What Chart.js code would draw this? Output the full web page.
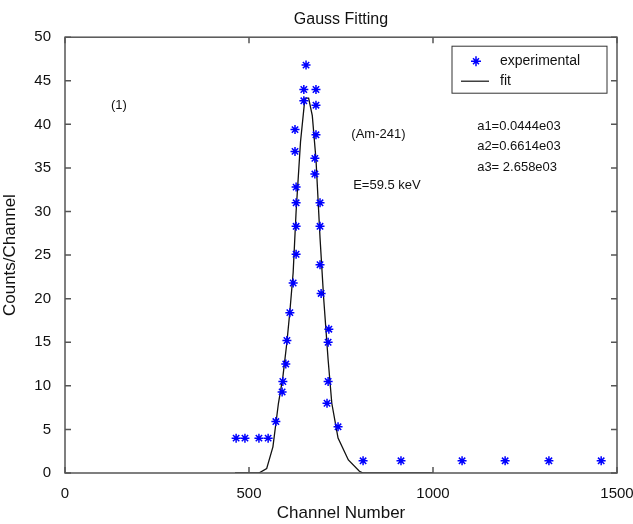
<!DOCTYPE html>
<html>
<head>
<meta charset="utf-8">
<script src="https://cdn.jsdelivr.net/npm/chart.js@4"></script>
<style>
  html, body { margin: 0; padding: 0; background: #fff; overflow: hidden; }
  #wrap { width: 633px; height: 524px; position: relative; }
  canvas { display: block; }
</style>
</head>
<body>
<div id="wrap"><canvas id="gauss"></canvas></div>
<script>
// experimental points (channel, counts)
const expChannels = [465, 489, 527, 552, 573, 590, 592, 600, 603, 611, 620, 628, 628, 628, 628, 625, 625, 649, 649, 655,
                     682, 682, 682, 679, 679, 693, 693, 693, 696, 717, 715, 715, 712, 742,
                     810, 913, 1079, 1196, 1315, 1457];
const expCounts   = [4.0, 4.0, 4.0, 4.0, 5.9, 9.3, 10.5, 12.5, 15.2, 18.4, 21.8, 25.1, 28.3, 31.0, 32.8, 36.9, 39.4, 42.7, 44.0, 46.8,
                     44.0, 42.2, 38.8, 36.1, 34.3, 31.0, 28.3, 23.9, 20.6, 16.5, 15.0, 10.5, 8.0, 5.3,
                     1.4, 1.4, 1.4, 1.4, 1.4, 1.4];

// fitted curve
const fitChannels = [462, 490, 527, 548, 565, 580, 592, 603, 611, 620, 628, 640, 652, 662, 672, 682, 693, 703, 715, 725, 742, 770, 800, 810, 913, 1000];
const fitCounts   = [0, 0, 0, 0.5, 3, 8, 11, 15, 18.5, 23, 30, 38, 43, 43, 41, 36, 27, 20, 13, 8, 4, 1.5, 0.2, 0, 0, 0];

const xTicks = [0, 500, 1000, 1500];
const yTicks = [0, 5, 10, 15, 20, 25, 30, 35, 40, 45, 50];

// text notes placed in data coordinates
const notes = [
    { text: '(1)', x: 125, y: 42.2 },
    { text: '(Am-241)', x: 778, y: 38.8 },
    { text: 'E=59.5 keV', x: 783, y: 33.0 },
    { text: 'a1=0.0444e03', x: 1120, y: 39.8 },
    { text: 'a2=0.6614e03', x: 1120, y: 37.5 },
    { text: 'a3= 2.658e03', x: 1120, y: 35.1 }
];

const FONT = '"Liberation Sans", Arial, sans-serif';
const AXIS = '#555';

const matlabBox = {
    id: 'matlabBox',
    afterDraw(chart) {
        const { ctx, chartArea: a, scales } = chart;
        ctx.save();
        // frame
        ctx.strokeStyle = AXIS;
        ctx.lineWidth = 1.5;
        ctx.strokeRect(a.left, a.top, a.right - a.left, a.bottom - a.top);
        // inward ticks on all four sides
        ctx.beginPath();
        yTicks.forEach(v => {
            const py = scales.y.getPixelForValue(v);
            ctx.moveTo(a.left, py); ctx.lineTo(a.left + 6, py);
            ctx.moveTo(a.right, py); ctx.lineTo(a.right - 6, py);
        });
        xTicks.forEach(v => {
            const px = scales.x.getPixelForValue(v);
            ctx.moveTo(px, a.bottom); ctx.lineTo(px, a.bottom - 6);
            ctx.moveTo(px, a.top); ctx.lineTo(px, a.top + 6);
        });
        ctx.stroke();

        // notes
        ctx.fillStyle = '#111';
        ctx.font = '13px ' + FONT;
        ctx.textBaseline = 'middle';
        ctx.textAlign = 'left';
        notes.forEach(n => {
            ctx.fillText(n.text, scales.x.getPixelForValue(n.x), scales.y.getPixelForValue(n.y));
        });

        // legend box
        const lx = a.right - 165, ly = a.top + 9, lw = 155, lh = 47;
        ctx.fillStyle = '#fff';
        ctx.fillRect(lx, ly, lw, lh);
        ctx.strokeStyle = '#333';
        ctx.lineWidth = 1;
        ctx.strokeRect(lx, ly, lw, lh);
        // star marker
        const sx = lx + 24, sy = ly + 15;
        ctx.strokeStyle = '#0000ff';
        ctx.lineWidth = 1.5;
        ctx.beginPath();
        ctx.moveTo(sx - 5, sy); ctx.lineTo(sx + 5, sy);
        ctx.moveTo(sx, sy - 5); ctx.lineTo(sx, sy + 5);
        ctx.moveTo(sx - 3, sy - 3); ctx.lineTo(sx + 3, sy + 3);
        ctx.moveTo(sx - 3, sy + 3); ctx.lineTo(sx + 3, sy - 3);
        ctx.stroke();
        // line sample
        ctx.strokeStyle = '#111';
        ctx.lineWidth = 1.2;
        ctx.beginPath();
        ctx.moveTo(lx + 9, ly + 35); ctx.lineTo(lx + 37, ly + 35);
        ctx.stroke();
        ctx.fillStyle = '#111';
        ctx.font = '14px ' + FONT;
        ctx.fillText('experimental', lx + 48, sy);
        ctx.fillText('fit', lx + 48, ly + 35);
        ctx.restore();
    }
};

new Chart(document.getElementById('gauss'), {
    type: 'scatter',
    data: {
        datasets: [
            {
                label: 'experimental',
                data: expChannels.map((c, i) => ({ x: c, y: expCounts[i] })),
                pointStyle: 'star',
                pointRadius: 4.5,
                pointBorderColor: '#0000ff',
                pointBackgroundColor: '#0000ff',
                pointBorderWidth: 1.5,
                showLine: false,
                order: 1
            },
            {
                label: 'fit',
                data: fitChannels.map((c, i) => ({ x: c, y: fitCounts[i] })),
                showLine: true,
                borderColor: '#111',
                borderWidth: 1.3,
                pointRadius: 0,
                tension: 0,
                order: 2
            }
        ]
    },
    options: {
        responsive: true,
        maintainAspectRatio: false,
        animation: false,
        layout: { padding: { left: 0, right: 16, top: 0, bottom: 0 } },
        plugins: {
            legend: { display: false },
            tooltip: { enabled: false },
            title: {
                display: true,
                text: 'Gauss Fitting',
                fullSize: false,
                color: '#111',
                font: { family: FONT, size: 16, weight: 'normal' },
                padding: { top: 10, bottom: 8 }
            }
        },
        scales: {
            x: {
                type: 'linear',
                min: 0, max: 1500,
                afterBuildTicks: s => { s.ticks = xTicks.map(v => ({ value: v })); },
                afterFit: s => { s.height = 51; s.paddingLeft = 0; s.paddingRight = 0; },
                grid: { display: false },
                border: { display: false },
                ticks: { color: '#111', font: { family: FONT, size: 15 }, padding: 4, maxRotation: 0, callback: v => String(v) },
                title: { display: true, text: 'Channel Number', color: '#111', font: { family: FONT, size: 17 }, padding: { top: 2, bottom: 0 } }
            },
            y: {
                type: 'linear',
                min: 0, max: 50,
                afterBuildTicks: s => { s.ticks = yTicks.map(v => ({ value: v })); },
                afterFit: s => { s.width = 65; s.paddingTop = 0; s.paddingBottom = 0; },
                grid: { display: false },
                border: { display: false },
                ticks: { color: '#111', font: { family: FONT, size: 15 }, padding: 6, callback: v => String(v) },
                title: { display: true, text: 'Counts/Channel', color: '#111', font: { family: FONT, size: 17 }, padding: { top: 0, bottom: 4 } }
            }
        }
    },
    plugins: [matlabBox]
});
</script>
</body>
</html>
